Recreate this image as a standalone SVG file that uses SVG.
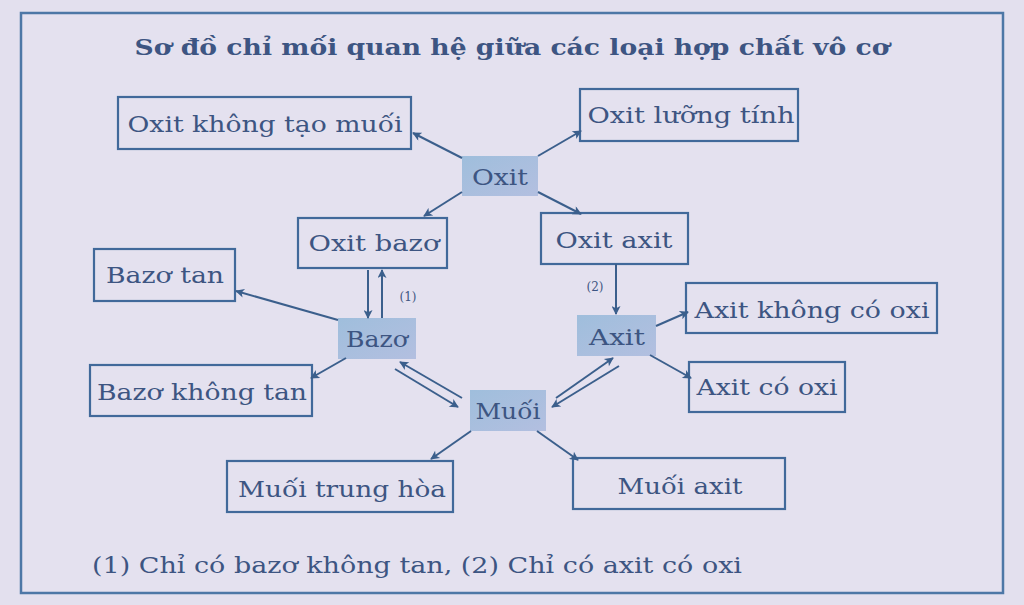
<svg xmlns="http://www.w3.org/2000/svg" width="1024" height="605" viewBox="0 0 1024 605">
<defs>
<marker id="ah" viewBox="0 0 10 10" refX="9" refY="5" markerWidth="11" markerHeight="9" markerUnits="userSpaceOnUse" orient="auto">
<path d="M0,0 L10,5 L0,10 L2.5,5 Z" fill="#3b5f8c"/>
</marker>
<linearGradient id="hl" x1="0" y1="0" x2="1" y2="1">
<stop offset="0" stop-color="#9fbedc"/>
<stop offset="1" stop-color="#b3bfe0"/>
</linearGradient>
</defs>
<style>
.t{font-family:"DejaVu Serif","Liberation Serif",serif;font-size:22px;fill:#3d5582;text-anchor:middle}
.b{font-weight:bold}
.s{font-size:12px}
.box{fill:none;stroke:#41699a;stroke-width:2.2}
.hl{fill:url(#hl);stroke:none}
.c line{stroke:#3b5f8c;stroke-width:2;marker-end:url(#ah)}
</style>
<rect x="0" y="0" width="1024" height="605" fill="#e3e0ee"/>
<rect x="21" y="13" width="982" height="580" fill="#e4e1ef" stroke="#4d77a6" stroke-width="2.5"/>
<text class="t b" x="512" y="55" font-size="26" textLength="755" lengthAdjust="spacingAndGlyphs">Sơ đồ chỉ mối quan hệ giữa các loại hợp chất vô cơ</text>

<g id="oxit"><rect class="hl" x="462" y="156" width="76" height="40"/><text class="t" x="500" y="185" textLength="56" lengthAdjust="spacingAndGlyphs">Oxit</text></g>
<g id="oxit-khong-tao-muoi"><rect class="box" x="118" y="97" width="293" height="52"/><text class="t" x="265" y="132" textLength="275" lengthAdjust="spacingAndGlyphs">Oxit không tạo muối</text></g>
<g id="oxit-luong-tinh"><rect class="box" x="580" y="89" width="218" height="52"/><text class="t" x="691" y="123" textLength="207" lengthAdjust="spacingAndGlyphs">Oxit lưỡng tính</text></g>
<g id="oxit-bazo"><rect class="box" x="298" y="218" width="149" height="50"/><text class="t" x="374" y="251" textLength="131" lengthAdjust="spacingAndGlyphs">Oxit bazơ</text></g>
<g id="oxit-axit"><rect class="box" x="541" y="213" width="147" height="51"/><text class="t" x="614" y="248" textLength="117" lengthAdjust="spacingAndGlyphs">Oxit axit</text></g>
<g id="bazo-tan"><rect class="box" x="94" y="249" width="141" height="52"/><text class="t" x="165" y="283" textLength="118" lengthAdjust="spacingAndGlyphs">Bazơ tan</text></g>
<g id="bazo"><rect class="hl" x="338" y="318" width="78" height="41"/><text class="t" x="377" y="347" textLength="62" lengthAdjust="spacingAndGlyphs">Bazơ</text></g>
<g id="axit"><rect class="hl" x="577" y="315" width="79" height="41"/><text class="t" x="617" y="345" textLength="56" lengthAdjust="spacingAndGlyphs">Axit</text></g>
<g id="axit-khong-co-oxi"><rect class="box" x="686" y="283" width="251" height="50"/><text class="t" x="812" y="318" textLength="235" lengthAdjust="spacingAndGlyphs">Axit không có oxi</text></g>
<g id="axit-co-oxi"><rect class="box" x="689" y="362" width="156" height="50"/><text class="t" x="767" y="395" textLength="141" lengthAdjust="spacingAndGlyphs">Axit có oxi</text></g>
<g id="bazo-khong-tan"><rect class="box" x="90" y="365" width="222" height="51"/><text class="t" x="202" y="400" textLength="210" lengthAdjust="spacingAndGlyphs">Bazơ không tan</text></g>
<g id="muoi"><rect class="hl" x="470" y="390" width="76" height="41"/><text class="t" x="508" y="419" textLength="65" lengthAdjust="spacingAndGlyphs">Muối</text></g>
<g id="muoi-trung-hoa"><rect class="box" x="227" y="461" width="226" height="51"/><text class="t" x="342" y="497" textLength="208" lengthAdjust="spacingAndGlyphs">Muối trung hòa</text></g>
<g id="muoi-axit"><rect class="box" x="573" y="458" width="212" height="51"/><text class="t" x="680" y="494" textLength="125" lengthAdjust="spacingAndGlyphs">Muối axit</text></g>

<g id="connectors" class="c">
<line x1="462" y1="158" x2="413" y2="133"/>
<line x1="538" y1="156" x2="581" y2="131"/>
<line x1="462" y1="192" x2="424" y2="216"/>
<line x1="538" y1="192" x2="581" y2="214"/>
<line x1="368" y1="270" x2="368" y2="318"/>
<line x1="382" y1="318" x2="382" y2="270"/>
<line x1="338" y1="320" x2="236" y2="291"/>
<line x1="346" y1="358" x2="311" y2="378"/>
<line x1="462" y1="398" x2="400" y2="362"/>
<line x1="395" y1="369" x2="458" y2="407"/>
<line x1="556" y1="398" x2="613" y2="358"/>
<line x1="619" y1="366" x2="552" y2="407"/>
<line x1="616" y1="264" x2="616" y2="314"/>
<line x1="656" y1="326" x2="688" y2="312"/>
<line x1="650" y1="355" x2="691" y2="378"/>
<line x1="471" y1="431" x2="431" y2="459"/>
<line x1="537" y1="431" x2="578" y2="460"/>
</g>
<text class="t s" x="408" y="301">(1)</text>
<text class="t s" x="595" y="291">(2)</text>
<text class="t" x="92" y="573" font-size="21" text-anchor="start" style="text-anchor:start" textLength="650" lengthAdjust="spacingAndGlyphs">(1) Chỉ có bazơ không tan,  (2) Chỉ có axit có oxi</text>
</svg>
